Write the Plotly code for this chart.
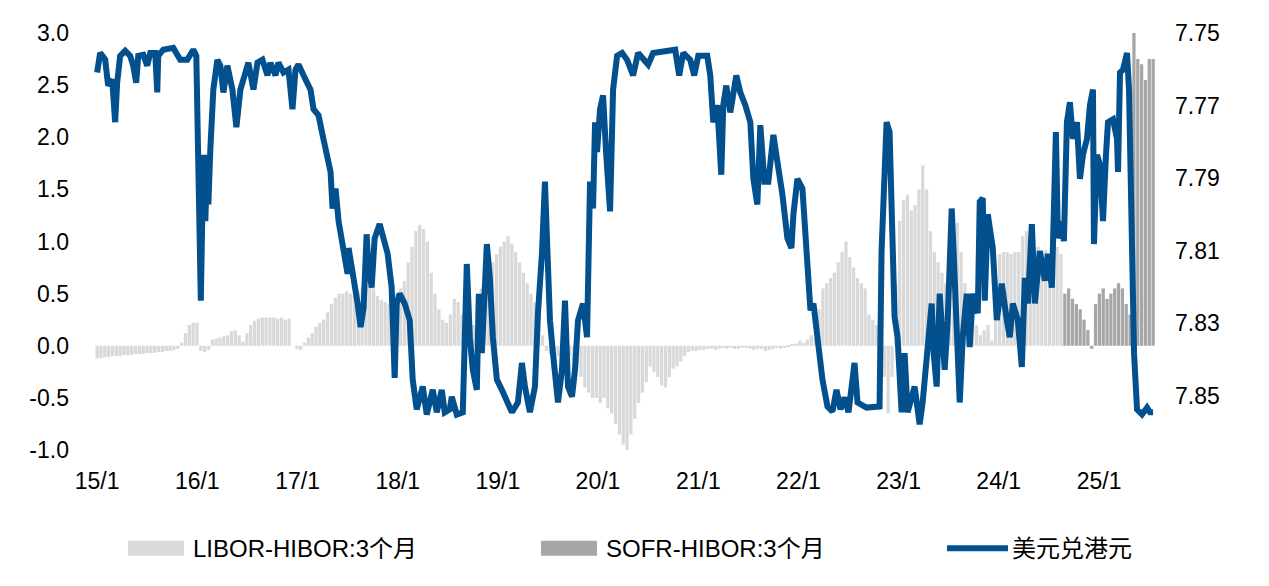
import numpy as np
import pandas as pd
import plotly.graph_objects as go

# ---------------- data ----------------
x_tick_dates = ["2015-01-01", "2016-01-01", "2017-01-01", "2018-01-01", "2019-01-01", "2020-01-01",
                "2021-01-01", "2022-01-01", "2023-01-01", "2024-01-01", "2025-01-01"]
x_tick_labels = ["15/1", "16/1", "17/1", "18/1", "19/1", "20/1", "21/1", "22/1", "23/1", "24/1", "25/1"]
left_tick_vals = [-1.0, -0.5, 0.0, 0.5, 1.0, 1.5, 2.0, 2.5, 3.0]
left_tick_labels = ["-1.0", "-0.5", "0.0", "0.5", "1.0", "1.5", "2.0", "2.5", "3.0"]
right_tick_vals = [7.75, 7.77, 7.79, 7.81, 7.83, 7.85]
right_tick_labels = ["7.75", "7.77", "7.79", "7.81", "7.83", "7.85"]

# LIBOR-HIBOR 3M spread (%), fortnightly from 2015-01-01
libor_hibor_3m = [
    # 2015
    -0.12, -0.12, -0.11, -0.11, -0.10, -0.10, -0.10, -0.09, -0.09, -0.09, -0.08, -0.08, -0.08,
    -0.07, -0.07, -0.07, -0.06, -0.06, -0.05, -0.05, -0.04, -0.03, 0.03, 0.12, 0.20, 0.22,
    # 2016
    0.22, -0.05, -0.06, -0.04, 0.06, 0.07, 0.08, 0.09, 0.10, 0.14, 0.15, 0.10, 0.04,
    0.12, 0.20, 0.24, 0.26, 0.27, 0.27, 0.27, 0.27, 0.26, 0.27, 0.25, 0.26, 0.00,
    # 2017
    -0.03, -0.04, 0.03, 0.08, 0.12, 0.18, 0.22, 0.25, 0.32, 0.40, 0.46, 0.50, 0.50,
    0.52, 0.50, 0.48, 0.52, 0.55, 0.55, 0.57, 0.55, 0.48, 0.44, 0.42, 0.40, 0.45,
    # 2018
    0.50, 0.55, 0.62, 0.80, 0.95, 1.10, 1.16, 1.12, 1.00, 0.70, 0.50, 0.35, 0.25,
    0.22, 0.30, 0.45, 0.42, 0.30, 0.20, 0.18, 0.20, 0.40, 0.55, 0.65, 0.72, 0.80,
    # 2019
    0.88, 0.95, 1.00, 1.05, 0.98, 0.90, 0.80, 0.70, 0.60, 0.50, 0.42, 0.30, 0.10,
    -0.05, -0.08, -0.05, -0.10, -0.08, -0.12, -0.10, -0.15, -0.20, -0.30, -0.40, -0.45, -0.50,
    # 2020
    -0.50, -0.55, -0.50, -0.60, -0.65, -0.75, -0.85, -0.95, -1.00, -0.85, -0.70, -0.55, -0.45,
    -0.35, -0.20, -0.25, -0.30, -0.38, -0.40, -0.30, -0.22, -0.20, -0.15, -0.10, -0.06, -0.05,
    # 2021
    -0.05, -0.04, -0.04, -0.03, -0.03, -0.04, -0.03, -0.02, -0.03, -0.02, -0.03, -0.03, -0.02,
    -0.02, -0.03, -0.04, -0.03, -0.03, -0.05, -0.04, -0.03, -0.02, -0.03, -0.02, -0.01, 0.01,
    # 2022
    0.02, 0.05, 0.03, 0.06, 0.10, 0.08, 0.35, 0.55, 0.60, 0.65, 0.70, 0.80, 0.90,
    1.00, 0.85, 0.75, 0.65, 0.60, 0.55, 0.30, 0.25, 0.20, -0.10, -0.30, -0.65, -0.30,
    # 2023
    0.60, 1.20, 1.40, 1.45, 1.30, 1.35, 1.50, 1.73, 1.50, 1.10, 0.90, 0.80, 0.70,
    0.60, 0.80, 1.05, 1.18, 0.90, 0.60, 0.45, 0.30, 0.20, 0.10, 0.15, 0.20, 0.05,
    # 2024 (to Aug)
    0.60, 0.88, 0.90, 0.90, 0.88, 0.90, 0.90, 1.05, 1.10, 0.90, 0.92, 0.95, 0.90,
    0.92, 0.85, 0.90, 0.95, 0.88,
]
# SOFR-HIBOR 3M spread (%), continues the fortnightly grid
sofr_hibor_3m = [
    0.50, 0.55, 0.45, 0.40, 0.35, 0.25, 0.15, -0.03,
    0.40, 0.50, 0.55, 0.45, 0.50, 0.55, 0.60, 0.55, 0.40, 0.30, 3.00, 2.75, 2.70, 2.55, 2.75, 2.75,
]

# USD/HKD (right axis), decimal-year dates
fx_year = [
    2015.00, 2015.03, 2015.08, 2015.11, 2015.15, 2015.18, 2015.20, 2015.23, 2015.28, 2015.33,
    2015.36, 2015.39, 2015.41, 2015.46, 2015.50, 2015.53, 2015.58, 2015.60, 2015.61, 2015.66,
    2015.76, 2015.83, 2015.90, 2015.96, 2015.99, 2016.00, 2016.02, 2016.035, 2016.06, 2016.08,
    2016.10, 2016.11, 2016.13, 2016.16, 2016.20, 2016.23, 2016.26, 2016.30, 2016.35, 2016.39,
    2016.43, 2016.48, 2016.51, 2016.56, 2016.60, 2016.65, 2016.70, 2016.73, 2016.78, 2016.81,
    2016.86, 2016.91, 2016.95, 2016.98, 2017.01, 2017.08, 2017.13, 2017.16, 2017.21, 2017.25,
    2017.30, 2017.33, 2017.35, 2017.38, 2017.41, 2017.46, 2017.50, 2017.51, 2017.55, 2017.60,
    2017.63, 2017.66, 2017.69, 2017.70, 2017.74, 2017.77, 2017.82, 2017.85, 2017.90, 2017.94,
    2017.97, 2017.99, 2018.02, 2018.07, 2018.12, 2018.15, 2018.19, 2018.25, 2018.29, 2018.35,
    2018.39, 2018.44, 2018.47, 2018.52, 2018.54, 2018.59, 2018.65, 2018.69, 2018.72, 2018.75,
    2018.79, 2018.81, 2018.84, 2018.89, 2018.92, 2018.95, 2018.99, 2019.04, 2019.09, 2019.14,
    2019.20, 2019.24, 2019.27, 2019.32, 2019.37, 2019.40, 2019.44, 2019.47, 2019.49, 2019.52,
    2019.55, 2019.60, 2019.64, 2019.67, 2019.70, 2019.74, 2019.77, 2019.80, 2019.85, 2019.89,
    2019.92, 2019.95, 2019.97, 2019.99, 2020.02, 2020.05, 2020.08, 2020.12, 2020.15, 2020.19,
    2020.24, 2020.29, 2020.35, 2020.40, 2020.50, 2020.55, 2020.77, 2020.81, 2020.85, 2020.92,
    2020.96, 2021.00, 2021.09, 2021.12, 2021.15, 2021.19, 2021.23, 2021.25, 2021.28, 2021.32,
    2021.38, 2021.42, 2021.47, 2021.52, 2021.55, 2021.59, 2021.62, 2021.66, 2021.70, 2021.75,
    2021.79, 2021.84, 2021.89, 2021.93, 2021.95, 2021.99, 2022.04, 2022.07, 2022.12, 2022.15,
    2022.19, 2022.24, 2022.29, 2022.34, 2022.38, 2022.42, 2022.46, 2022.50, 2022.56, 2022.59,
    2022.68, 2022.81, 2022.83, 2022.86, 2022.88, 2022.91, 2022.94, 2022.96, 2022.99, 2023.03,
    2023.06, 2023.09, 2023.16, 2023.21, 2023.24, 2023.29, 2023.33, 2023.35, 2023.38, 2023.41,
    2023.46, 2023.49, 2023.53, 2023.55, 2023.58, 2023.61, 2023.64, 2023.68, 2023.71, 2023.74,
    2023.79, 2023.81, 2023.84, 2023.86, 2023.89, 2023.94, 2023.98, 2024.03, 2024.08, 2024.11,
    2024.14, 2024.19, 2024.23, 2024.26, 2024.29, 2024.33, 2024.36, 2024.41, 2024.46, 2024.49,
    2024.53, 2024.55, 2024.57, 2024.59, 2024.63, 2024.65, 2024.68, 2024.71, 2024.74, 2024.78,
    2024.81, 2024.84, 2024.88, 2024.91, 2024.94, 2024.95, 2024.98, 2025.01, 2025.04, 2025.07,
    2025.09, 2025.14, 2025.18, 2025.19, 2025.21, 2025.24, 2025.28, 2025.30, 2025.33, 2025.35,
    2025.38, 2025.43, 2025.48, 2025.51, 2025.54,
]
fx_usdhkd = [
    7.7609, 7.7555, 7.7573, 7.7645, 7.7628, 7.7746, 7.7637, 7.7563, 7.7549, 7.7563,
    7.7590, 7.7637, 7.7563, 7.7560, 7.7590, 7.7555, 7.7555, 7.7664, 7.7563, 7.7546,
    7.7541, 7.7574, 7.7574, 7.7546, 7.7563, 7.7691, 7.7929, 7.8238, 7.7836, 7.8019,
    7.7836, 7.7973, 7.7820, 7.7656, 7.7574, 7.7590, 7.7664, 7.7590, 7.7656, 7.7760,
    7.7656, 7.7609, 7.7582, 7.7656, 7.7582, 7.7574, 7.7617, 7.7582, 7.7617, 7.7582,
    7.7609, 7.7601, 7.7710, 7.7601, 7.7587, 7.7628, 7.7656, 7.7710, 7.7727, 7.7781,
    7.7836, 7.7883, 7.7984, 7.7929, 7.8019, 7.8109, 7.8164, 7.8093, 7.8156, 7.8246,
    7.8311, 7.8257, 7.8055, 7.8109, 7.8202, 7.8066, 7.8027, 7.8055, 7.8109, 7.8202,
    7.8451, 7.8246, 7.8219, 7.8246, 7.8292, 7.8456, 7.8538, 7.8475, 7.8552, 7.8484,
    7.8546, 7.8484, 7.8546, 7.8538, 7.8503, 7.8552, 7.8546, 7.8137, 7.8339, 7.8429,
    7.8484, 7.8219, 7.8383, 7.8082, 7.8175, 7.8339, 7.8456, 7.8484, 7.8519, 7.8546,
    7.8519, 7.8410, 7.8475, 7.8546, 7.8475, 7.8273, 7.8109, 7.7910, 7.8066, 7.8292,
    7.8383, 7.8519, 7.8429, 7.8238, 7.8475, 7.8503, 7.8429, 7.8292, 7.8246, 7.8339,
    7.7910, 7.7984, 7.7746, 7.7828, 7.7710, 7.7672, 7.7828, 7.7992, 7.7656, 7.7563,
    7.7555, 7.7574, 7.7617, 7.7555, 7.7587, 7.7555, 7.7546, 7.7617, 7.7555, 7.7574,
    7.7617, 7.7563, 7.7563, 7.7617, 7.7746, 7.7699, 7.7891, 7.7699, 7.7645, 7.7719,
    7.7617, 7.7664, 7.7699, 7.7746, 7.7902, 7.7973, 7.7754, 7.7910, 7.7910, 7.7781,
    7.7855, 7.7945, 7.8066, 7.8093, 7.8000, 7.7902, 7.7929, 7.8055, 7.8265, 7.8246,
    7.8347, 7.8456, 7.8530, 7.8544, 7.8484, 7.8538, 7.8505, 7.8546, 7.8410, 7.8519,
    7.8533, 7.8530, 7.8101, 7.7863, 7.7746, 7.7773, 7.8109, 7.8284, 7.8339, 7.8546,
    7.8383, 7.8546, 7.8475, 7.8579, 7.8519, 7.8383, 7.8246, 7.8383, 7.8475, 7.8219,
    7.8429, 7.8292, 7.7984, 7.8109, 7.8292, 7.8519, 7.8339, 7.8219, 7.8366, 7.8219,
    7.8273, 7.7965, 7.7956, 7.8238, 7.8000, 7.8093, 7.8292, 7.8191, 7.8292, 7.8339,
    7.8246, 7.8292, 7.8421, 7.8175, 7.8246, 7.8027, 7.8246, 7.8101, 7.8183, 7.8109,
    7.8202, 7.7929, 7.7773, 7.8066, 7.8019, 7.8074, 7.7746, 7.7691, 7.7792, 7.7746,
    7.7902, 7.7836, 7.7792, 7.7699, 7.7656, 7.8082, 7.7836, 7.7863, 7.8019, 7.7836,
    7.7746, 7.7738, 7.7792, 7.7883, 7.7609, 7.7601, 7.7555, 7.7656, 7.8109, 7.8383,
    7.8538, 7.8552, 7.8533, 7.8546, 7.8546,
]

# ---------------- build ----------------
n_bars = len(libor_hibor_3m) + len(sofr_hibor_3m)
bar_dates = pd.date_range("2015-01-01", periods=n_bars, freq="14D")
libor_dates = bar_dates[:len(libor_hibor_3m)]
sofr_dates = bar_dates[len(libor_hibor_3m):]

fx_dates = pd.Timestamp("2015-01-01") + pd.to_timedelta((np.array(fx_year) - 2015.0) * 365.25, unit="D")

BLUE = "#03508f"
LIGHT = "#d9d9d9"
DARK = "#a6a6a6"
FONT = "Liberation Sans, Arial, Noto Sans CJK SC, sans-serif"
FS = 23
bar_w = 14 * 86400000 * 0.85

fig = go.Figure()
fig.add_trace(go.Bar(x=libor_dates, y=libor_hibor_3m, name="LIBOR-HIBOR:3个月",
                     marker=dict(color=LIGHT, line=dict(width=0)), width=bar_w, showlegend=False))
fig.add_trace(go.Bar(x=sofr_dates, y=sofr_hibor_3m, name="SOFR-HIBOR:3个月",
                     marker=dict(color=DARK, line=dict(width=0)), width=bar_w, showlegend=False))
fig.add_trace(go.Scatter(x=fx_dates, y=fx_usdhkd, name="美元兑港元", mode="lines",
                         line=dict(color=BLUE, width=6), yaxis="y2", showlegend=False))

# page has an 8px body margin: figure sized to fit the window
OFF = 8
W, H = 1269 - 2 * OFF, 586 - 2 * OFF
PL, PR, PT, PB = 90, 1160, 30, 450          # plot-area edges in page pixels
L, R, T, B = PL - OFF, W - (PR - OFF), PT - OFF, H - (PB - OFF)
pw = W - L - R
ph = H - T - B


def px(xp):
    return (xp - OFF - L) / pw


def py(yp):
    return (PB - yp) / ph


shapes = []
annotations = []
legend_items = [
    ("rect", LIGHT, 128, 184, "LIBOR-HIBOR:3个月", 191),
    ("rect", DARK, 541, 597, "SOFR-HIBOR:3个月", 604),
    ("line", BLUE, 947, 1008, "美元兑港元", 1010),
]
ly = 549
for kind, col, x0, x1, label, tx in legend_items:
    if kind == "rect":
        shapes.append(dict(type="rect", xref="paper", yref="paper", x0=px(x0), x1=px(x1),
                           y0=py(ly - 7.5), y1=py(ly + 7.5), fillcolor=col, line=dict(width=0)))
    else:
        shapes.append(dict(type="line", xref="paper", yref="paper", x0=px(x0), x1=px(x1),
                           y0=py(ly), y1=py(ly), line=dict(color=col, width=6)))
    annotations.append(dict(xref="paper", yref="paper", x=px(tx), y=py(ly), text=label,
                            showarrow=False, xanchor="left", yanchor="middle",
                            font=dict(size=FS + 1, color="#000000", family=FONT)))

fig.update_layout(
    width=W, height=H,
    margin=dict(l=L, r=R, t=T, b=B),
    paper_bgcolor="white", plot_bgcolor="white",
    font=dict(family=FONT, size=FS, color="#000000"),
    barmode="overlay",
    showlegend=False,
    shapes=shapes,
    annotations=annotations,
    xaxis=dict(type="date", range=["2014-12-06", "2025-08-11"], tickvals=x_tick_dates,
               ticktext=x_tick_labels, showgrid=False, zeroline=False, showline=False,
               ticks="", ticklabelstandoff=15),
    yaxis=dict(range=[-1.0, 3.0], tickvals=left_tick_vals, ticktext=left_tick_labels,
               showgrid=False, zeroline=False, showline=False, ticks="", ticklabelstandoff=20),
    yaxis2=dict(range=[7.865, 7.75], overlaying="y", side="right", tickvals=right_tick_vals,
                ticktext=right_tick_labels, showgrid=False, zeroline=False, showline=False,
                ticks="", ticklabelstandoff=14),
)

fig.write_html("out.html")
